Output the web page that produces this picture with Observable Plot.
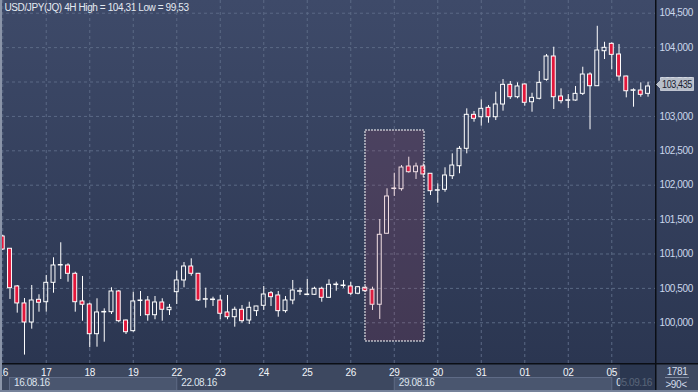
<!DOCTYPE html>
<html><head><meta charset="utf-8">
<script src="https://cdn.jsdelivr.net/npm/d3@7"></script>
<script src="https://cdn.jsdelivr.net/npm/@observablehq/plot@0.6"></script>
<style>
html,body{margin:0;padding:0;background:#2c3752;}
#chart{width:698px;height:392px;position:relative;overflow:hidden;}
#chart svg{display:block;}
</style></head><body><div id="chart"></div>
<script>
// ---- data (USD/JPY 4H candles, 16.08.16 – 05.09.16) ----
const opens = [101.254,101.076,100.528,100.281,100.004,100.334,100.299,100.581,100.833,100.833,100.712,100.310,100.266,99.834,100.150,100.154,100.455,100.033,99.878,100.316,100.324,100.110,100.295,100.183,100.445,100.615,100.818,100.712,100.335,100.330,100.324,100.150,100.081,100.189,100.033,100.169,100.247,100.430,100.397,100.169,100.324,100.451,100.403,100.407,100.494,100.363,100.548,100.534,100.528,100.422,100.509,100.480,100.262,101.294,101.944,101.942,102.272,102.189,102.272,102.166,101.919,101.933,102.131,102.276,102.529,103.023,102.988,103.125,102.988,103.173,103.459,103.279,103.464,103.206,103.256,103.532,103.871,103.289,103.227,103.231,103.328,103.609,103.439,103.948,104.055,103.900,103.580,103.372,103.376,103.328];
const highs = [101.270,101.080,100.542,100.353,100.542,100.407,100.688,100.945,101.163,100.858,100.735,100.673,100.285,100.349,100.203,100.509,100.469,100.040,100.445,100.455,100.382,100.382,100.349,100.266,100.750,100.876,100.930,100.717,100.503,100.372,100.397,100.397,100.227,100.251,100.299,100.240,100.528,100.455,100.455,100.382,100.615,100.503,100.629,100.517,100.517,100.625,100.590,100.615,100.590,100.528,100.528,100.517,101.501,101.948,102.174,102.286,102.407,102.320,102.311,102.170,102.020,102.253,102.456,102.562,103.110,103.071,103.241,103.158,103.352,103.536,103.507,103.488,103.474,103.337,103.653,103.900,104.006,103.401,103.318,103.435,103.715,103.634,104.310,104.078,104.070,104.045,103.585,103.401,103.488,103.497];
const lows = [101.050,100.339,100.140,99.530,99.907,100.154,100.154,100.430,100.629,100.590,100.154,100.023,99.637,99.645,99.718,100.121,100.000,99.830,99.863,100.092,100.023,100.044,100.023,100.106,100.266,100.509,100.677,100.310,100.212,100.237,100.044,100.044,99.936,99.994,99.975,100.092,100.179,100.237,100.081,100.140,100.262,100.397,100.397,100.397,100.299,100.360,100.459,100.503,100.397,100.407,100.445,100.179,100.048,101.290,101.836,101.913,102.174,102.083,102.108,101.850,101.738,101.898,102.083,102.166,102.456,102.916,102.858,102.901,102.940,103.076,103.246,103.256,103.148,103.061,103.241,103.512,103.100,103.183,103.115,103.221,103.304,102.805,103.435,103.827,103.677,103.512,103.270,103.134,103.279,103.279];
const closes = [101.065,100.503,100.281,100.004,100.324,100.291,100.581,100.833,100.840,100.712,100.299,100.262,99.834,100.150,100.158,100.455,100.023,99.863,100.310,100.324,100.110,100.295,100.189,100.218,100.615,100.818,100.712,100.324,100.343,100.338,100.131,100.081,100.189,100.023,100.218,100.237,100.411,100.372,100.169,100.324,100.469,100.459,100.411,100.494,100.363,100.552,100.556,100.542,100.422,100.517,100.459,100.262,101.279,101.836,101.952,102.257,102.189,102.272,102.156,101.913,101.927,102.141,102.286,102.529,103.023,102.965,103.110,102.988,103.173,103.459,103.279,103.435,103.198,103.270,103.488,103.871,103.279,103.221,103.235,103.328,103.609,103.439,103.958,103.997,103.895,103.580,103.366,103.380,103.314,103.435];

const dayTickIdx = [0,6,12,18,24,30,36,42,48,54,60,66,72,78,84];
const dayLabels = ["16","17","18","19","22","23","24","25","26","29","30","31","01","02","05"];
const weekStartIdx = [0,24,54,84];
const weekLabels = ["16.08.16","22.08.16","29.08.16","05.09.16"];
const priceTicks = [100,100.5,101,101.5,102,102.5,103,103.5,104,104.5];
const highlightIdx = [50.03, 58.17];
const highlightPrice = [99.728, 102.795];
const titleText = "USD/JPY(JQ) 4H High = 104,31 Low = 99,53";
const lastPrice = 103.435;
const barTotal = "1781";
const barVisible = ">90<";

const RED = "#e3173b";
const FONT = "'Liberation Sans',Arial,sans-serif";
const FS = 10;
const fmtPrice = d => d.toFixed(3).replace(".", ",");

const candles = opens.map((o, i) => ({i, o, h: highs[i], l: lows[i], c: closes[i]}));
const highlight = [{x1: highlightIdx[0], x2: highlightIdx[1], y1: highlightPrice[0], y2: highlightPrice[1]}];

function background(index, scales, values, dim) {
  const yb = dim.height - dim.marginBottom;
  const g = d3.create("svg:g");
  const grad = g.append("defs").append("linearGradient")
    .attr("id", "bgGrad").attr("x1", 0).attr("x2", 0).attr("y1", 0).attr("y2", 1);
  grad.append("stop").attr("offset", "0%").attr("stop-color", "#3e4a69");
  grad.append("stop").attr("offset", "100%").attr("stop-color", "#2b3651");
  g.append("rect").attr("width", dim.width).attr("height", yb).attr("fill", "url(#bgGrad)");
  g.append("rect").attr("y", yb).attr("width", dim.width).attr("height", dim.marginBottom).attr("fill", "#3d4860");
  // week boxes (alternate weeks shaded)
  const xr = dim.width - dim.marginRight;
  weekStartIdx.forEach((s, k) => {
    if (k % 2) return;
    const x0 = Math.max(scales.x(s), 9);
    const x1 = k + 1 < weekStartIdx.length ? scales.x(weekStartIdx[k + 1]) : xr;
    g.append("rect").attr("x", x0 + 0.5).attr("y", yb + 14.5).attr("width", x1 - x0).attr("height", 16)
      .attr("fill", "#4a566f").attr("stroke", "#5f6b86");
  });
  return g.node();
}

function chrome(index, scales, values, dim) {
  const xr = dim.width - dim.marginRight;
  const yb = dim.height - dim.marginBottom;
  const g = d3.create("svg:g").attr("font-family", FONT).attr("font-size", FS);
  // week labels
  weekStartIdx.forEach((s, k) => {
    const x0 = Math.max(scales.x(s), 9);
    g.append("text").attr("x", x0 + 5).attr("y", yb + 23).attr("text-anchor", "start")
      .attr("fill", "#dfe5ee").text(weekLabels[k]);
  });
  // current-view dark box
  g.append("rect").attr("x", xr - 35).attr("y", yb + 1).attr("width", 35).attr("height", dim.marginBottom - 1)
    .attr("fill", "#243049").attr("fill-opacity", 0.72);
  // separators
  g.append("rect").attr("x", 0).attr("y", yb).attr("width", dim.width).attr("height", 1.5).attr("fill", "#0b0e15");
  g.append("rect").attr("x", xr).attr("y", 0).attr("width", 1.5).attr("height", dim.height).attr("fill", "#0b0e15");
  // left and bottom borders
  g.append("rect").attr("x", 0).attr("y", 0).attr("width", 2).attr("height", dim.height).attr("fill", "#8a94a8");
  g.append("rect").attr("x", 0).attr("y", dim.height - 2).attr("width", dim.width).attr("height", 2).attr("fill", "#76829a");
  // bar counters
  const cx = xr + 22;
  g.append("text").attr("x", cx).attr("y", yb + 12).attr("text-anchor", "middle").attr("fill", "#d3dcec").text(barTotal);
  g.append("rect").attr("x", cx - 12).attr("y", yb + 14).attr("width", 24).attr("height", 1).attr("fill", "#7f8aa0");
  g.append("text").attr("x", cx - 1).attr("y", yb + 25).attr("text-anchor", "middle").attr("fill", "#d3dcec").text(barVisible);
  return g.node();
}

function priceLabel(index, scales, values, dim) {
  const x0 = dim.width - dim.marginRight + 1.5;
  const y = scales.y(lastPrice);
  const g = d3.create("svg:g");
  const t = y - 8.5, b = y + 4.5, c = y - 1.5;
  g.append("path")
    .attr("d", `M${x0},${c} L${x0 + 4},${c - 4} L${x0 + 4},${t} L${x0 + 37},${t} L${x0 + 37},${b} L${x0 + 4},${b} L${x0 + 4},${c + 4} Z`)
    .attr("fill", "#b7bec9").attr("stroke", "#dfe3ea").attr("stroke-width", 0.7);
  g.append("text").attr("x", x0 + 5.5).attr("y", y + 2).attr("text-anchor", "start")
    .attr("font-family", FONT).attr("font-size", FS)
    .attr("textLength", 30).attr("lengthAdjust", "spacingAndGlyphs")
    .attr("fill", "#18202f").text(fmtPrice(lastPrice));
  return g.node();
}

const plot = Plot.plot({
  width: 698,
  height: 392,
  marginLeft: 0,
  marginRight: 43,
  marginTop: 0,
  marginBottom: 29,
  x: {type: "linear", domain: [-0.31, 90.03], axis: null},
  y: {type: "linear", domain: [99.408, 104.685], axis: null},
  style: {fontFamily: FONT, fontSize: FS + "px", letterSpacing: "-0.4px", background: "#2c3752", color: "#e8edf5"},
  marks: [
    background,
    Plot.gridY(priceTicks, {stroke: "#5b6985", strokeOpacity: 1, strokeDasharray: "3,3"}),
    Plot.gridX(dayTickIdx, {stroke: "#5b6985", strokeOpacity: 1, strokeDasharray: "3,3"}),
    // wicks
    Plot.ruleX(candles, {x: "i", y1: "h", y2: d => Math.max(d.o, d.c), stroke: "white", strokeWidth: 1}),
    Plot.ruleX(candles, {x: "i", y1: d => Math.min(d.o, d.c), y2: "l", stroke: "white", strokeWidth: 1}),
    // bodies
    Plot.rect(candles, {filter: d => d.c < d.o, x1: d => d.i - 0.27, x2: d => d.i + 0.27, y1: "o", y2: "c", fill: RED, stroke: "white", strokeWidth: 1}),
    Plot.rect(candles, {filter: d => d.c >= d.o, x1: d => d.i - 0.27, x2: d => d.i + 0.27, y1: "o", y2: "c", fill: "none", stroke: "white", strokeWidth: 1}),
    // highlighted zone
    Plot.rect(highlight, {x1: "x1", x2: "x2", y1: "y1", y2: "y2", fill: "rgb(176,68,92)", fillOpacity: 0.17, stroke: "white", strokeDasharray: "2,1", strokeWidth: 1}),
    // axes
    Plot.axisY(priceTicks, {anchor: "right", tickSize: 0, tickPadding: 4, tickFormat: fmtPrice, color: "#cbd7ec", fontSize: FS, label: null}),
    Plot.axisX(dayTickIdx, {anchor: "bottom", tickSize: 0, tickPadding: 5, tickFormat: d => dayLabels[dayTickIdx.indexOf(d)], color: "#f2f5fa", fontSize: FS, label: null}),
    chrome,
    priceLabel,
    Plot.text([titleText], {text: d => d, frameAnchor: "top-left", dx: 4, dy: 3, lineAnchor: "top", textAnchor: "start", fill: "#e4e9f1", fontSize: FS})
  ]
});
document.getElementById("chart").appendChild(plot);
</script>
</body></html>
